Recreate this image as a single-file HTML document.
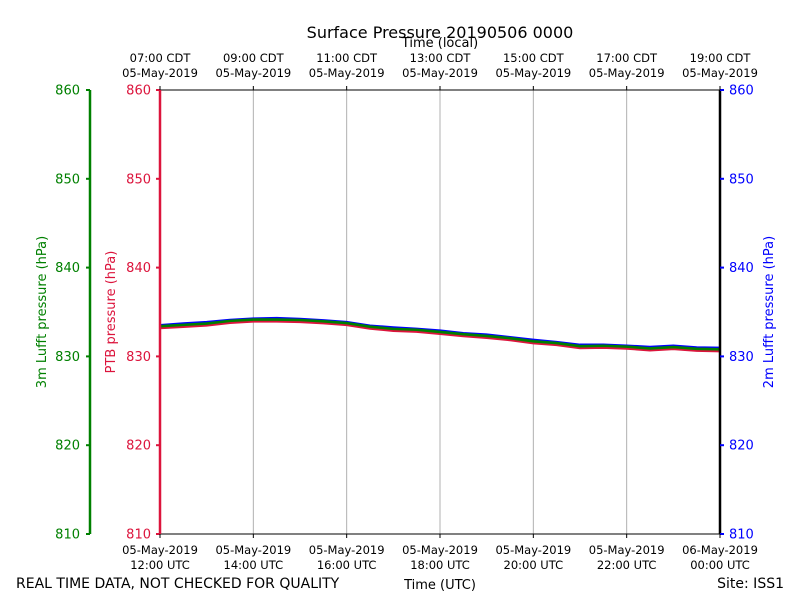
<!DOCTYPE html>
<html><head><meta charset="utf-8"><style>body{margin:0;background:#fff}svg{display:block;font-family:"DejaVu Sans","Liberation Sans",sans-serif}</style></head>
<body>
<svg id="c" width="800" height="600"></svg>
<script>
const hours=[12,12.5,13,13.5,14,14.5,15,15.5,16,16.5,17,17.5,18,18.5,19,19.5,20,20.5,21,21.5,22,22.5,23,23.5,24];
const ptb=[833.2,833.35,833.5,833.8,833.95,833.95,833.9,833.75,833.55,833.15,832.9,832.8,832.55,832.3,832.1,831.85,831.5,831.3,830.95,831.0,830.9,830.7,830.85,830.65,830.6];
const lufft3m=[833.4,833.55,833.7,834.0,834.15,834.15,834.1,833.95,833.75,833.35,833.1,833.0,832.75,832.5,832.3,832.05,831.7,831.5,831.15,831.2,831.1,830.9,831.05,830.85,830.8];
const lufft2m=[833.5,833.7,833.85,834.1,834.25,834.3,834.2,834.05,833.85,833.45,833.25,833.1,832.9,832.6,832.45,832.15,831.85,831.6,831.3,831.3,831.2,831.05,831.2,831.0,830.95];
const yTicks=[810,820,830,840,850,860];
const xTickHours=[12,14,16,18,20,22,24];
const utcLabels=[["05-May-2019","12:00 UTC"],["05-May-2019","14:00 UTC"],["05-May-2019","16:00 UTC"],["05-May-2019","18:00 UTC"],["05-May-2019","20:00 UTC"],["05-May-2019","22:00 UTC"],["06-May-2019","00:00 UTC"]];
const cdtLabels=[["07:00 CDT","05-May-2019"],["09:00 CDT","05-May-2019"],["11:00 CDT","05-May-2019"],["13:00 CDT","05-May-2019"],["15:00 CDT","05-May-2019"],["17:00 CDT","05-May-2019"],["19:00 CDT","05-May-2019"]];
const L=160,R=720,T=90,B=534;
const X=h=>L+(h-12)/12*(R-L);
const Y=v=>B-(v-810)/50*(B-T);
const svg=document.getElementById('c');const NS='http://www.w3.org/2000/svg';
function el(t,a,txt){const e=document.createElementNS(NS,t);for(const k in a)e.setAttribute(k,a[k]);if(txt!==undefined)e.textContent=txt;svg.appendChild(e);return e;}
function txt(x,y,s,fill,size,anchor,name,rot){const e=el('text',{x:x,y:y,fill:fill,'font-size':size,'text-anchor':anchor},s);if(rot)e.setAttribute('transform','rotate(-90 '+x+' '+y+')');

return e;}
xTickHours.forEach((h,i)=>{if(i>0&&i<xTickHours.length-1){const g=el('line',{x1:X(h),x2:X(h),y1:T,y2:B,stroke:'#b0b0b0','stroke-width':1});

}});
function series(vals,color,name){const p=el('polyline',{points:vals.map((v,i)=>X(hours[i])+','+Y(v)).join(' '),fill:'none',stroke:color,'stroke-width':2.6});

}
series(lufft2m,'#0000ff','series-2m-lufft');
series(ptb,'#dc143c','series-ptb');
series(lufft3m,'#008000','series-3m-lufft');
const f=el('rect',{x:L,y:T,width:R-L,height:B-T,fill:'none',stroke:'#000','stroke-width':1});


const ls=el('line',{x1:L,x2:L,y1:T,y2:B,stroke:'#dc143c','stroke-width':2.5});


const rs=el('line',{x1:R,x2:R,y1:T,y2:B,stroke:'#000','stroke-width':2.5});


const gs=el('line',{x1:90,x2:90,y1:T,y2:B,stroke:'#008000','stroke-width':2.5});


yTicks.forEach(v=>{const y=Y(v);
el('line',{x1:90,x2:86,y1:y,y2:y,stroke:'#008000','stroke-width':2});
txt(80,y+4.5,v,'#008000',13,'end','y-tick-3m');
el('line',{x1:L,x2:L-4,y1:y,y2:y,stroke:'#dc143c','stroke-width':2});
txt(151,y+4.5,v,'#dc143c',13,'end','y-tick-ptb');
el('line',{x1:R,x2:R+4,y1:y,y2:y,stroke:'#0000ff','stroke-width':2});
txt(729,y+4.5,v,'#0000ff',13,'start','y-tick-2m');});
xTickHours.forEach((h,i)=>{const x=X(h);
el('line',{x1:x,x2:x,y1:B,y2:B+4,stroke:'#000'});
el('line',{x1:x,x2:x,y1:T,y2:T-4,stroke:'#000'});
txt(x,554,utcLabels[i][0],'#000',11.5,'middle','x-tick-utc-date');
txt(x,569,utcLabels[i][1],'#000',11.5,'middle','x-tick-utc-time');
txt(x,62,cdtLabels[i][0],'#000',11.5,'middle','x-tick-cdt-time');
txt(x,77,cdtLabels[i][1],'#000',11.5,'middle','x-tick-cdt-date');});
txt(440,38,'Surface Pressure 20190506 0000','#000',16,'middle','chart-title');
txt(440,47,'Time (local)','#000',13,'middle','top-x-axis-title');
txt(440,589,'Time (UTC)','#000',13,'middle','x-axis-title');
txt(46,312,'3m Lufft pressure (hPa)','#008000',13,'middle','y-axis-title-3m',true);
txt(115,312,'PTB pressure (hPa)','#dc143c',13,'middle','y-axis-title-ptb',true);
txt(773,312,'2m Lufft pressure (hPa)','#0000ff',13,'middle','y-axis-title-2m',true);
txt(16,588,'REAL TIME DATA, NOT CHECKED FOR QUALITY','#000',14,'start','quality-note');
txt(784,588,'Site: ISS1','#000',14,'end','site-label');
</script>
</body></html>
